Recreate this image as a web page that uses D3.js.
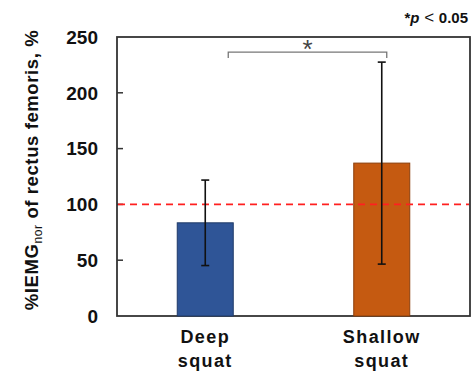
<!DOCTYPE html>
<html>
<head>
<meta charset="utf-8">
<script src="https://cdn.jsdelivr.net/npm/d3@7"></script>
<style>
  body { margin: 0; background: #fff; }
  svg { display: block; font-family: Arial, "Liberation Sans", sans-serif; }
</style>
</head>
<body>
<div class="chart"></div>
<script>
const categories = [["Deep", "squat"], ["Shallow", "squat"]];
const means = [83.5, 137];
const sds = [38.3, 90.5];
const yTicks = [0, 50, 100, 150, 200, 250];
const refLine = 100;
const colors = ["#2F5597", "#C55A11"];
const strokes = ["#1F3A68", "#8A3E0B"];

const width = 472, height = 371;
const margin = { top: 37, right: 2, bottom: 55, left: 117 };

const svg = d3.select(".chart")
  .append("svg")
  .attr("width", width)
  .attr("height", height);

const x = d3.scalePoint()
  .domain(d3.range(categories.length))
  .range([margin.left, width - margin.right])
  .padding(0.5);

const y = d3.scaleLinear()
  .domain([0, 250])
  .range([height - margin.bottom, margin.top]);

const barW = 56;

// frame
svg.append("rect")
  .attr("x", margin.left).attr("y", y(250))
  .attr("width", width - margin.right - margin.left).attr("height", y(0) - y(250))
  .attr("fill", "none").attr("stroke", "#333").attr("stroke-width", 1.8);

// inward ticks
svg.selectAll(".tick-line")
  .data(yTicks.filter(d => d > 0 && d < 250))
  .enter().append("line")
  .attr("x1", margin.left).attr("x2", margin.left + 6)
  .attr("y1", d => y(d)).attr("y2", d => y(d))
  .attr("stroke", "#333").attr("stroke-width", 1.5);

svg.selectAll(".tick-label")
  .data(yTicks)
  .enter().append("text")
  .attr("x", 98)
  .attr("y", d => y(d))
  .attr("dy", "0.36em")
  .attr("text-anchor", "end")
  .attr("font-size", 19)
  .attr("font-weight", "bold")
  .attr("fill", "#111")
  .text(d => d);

// bars
svg.selectAll(".bar")
  .data(means)
  .enter().append("rect")
  .attr("x", (d, i) => x(i) - barW / 2)
  .attr("y", d => y(d))
  .attr("width", barW)
  .attr("height", d => y(0) - y(d))
  .attr("fill", (d, i) => colors[i])
  .attr("stroke", (d, i) => strokes[i])
  .attr("stroke-width", 1);

// reference line
svg.append("line")
  .attr("x1", margin.left + 1).attr("x2", width - margin.right - 1)
  .attr("y1", y(refLine)).attr("y2", y(refLine))
  .attr("stroke", "#FF2020").attr("stroke-width", 1.6)
  .attr("stroke-dasharray", "7,5");

// error bars
const eb = svg.selectAll(".err").data(means).enter().append("g");
eb.append("line")
  .attr("x1", (d, i) => x(i)).attr("x2", (d, i) => x(i))
  .attr("y1", (d, i) => y(d + sds[i])).attr("y2", (d, i) => y(d - sds[i]))
  .attr("stroke", "#111").attr("stroke-width", 1.6);
[1, -1].forEach(s => {
  eb.append("line")
    .attr("x1", (d, i) => x(i) - 4).attr("x2", (d, i) => x(i) + 4)
    .attr("y1", (d, i) => y(d + s * sds[i])).attr("y2", (d, i) => y(d + s * sds[i]))
    .attr("stroke", "#111").attr("stroke-width", 1.6);
});

// significance bracket
const bx1 = x(0) + 23, bx2 = x(1) + 5, by = y(236.5);
svg.append("path")
  .attr("d", `M${bx1},${by + 6}V${by}H${bx2}V${by + 6}`)
  .attr("fill", "none").attr("stroke", "#777").attr("stroke-width", 1.3);
svg.append("text")
  .attr("x", (bx1 + bx2) / 2).attr("y", by + 6)
  .attr("text-anchor", "middle")
  .attr("font-size", 26).attr("fill", "#444")
  .text("*");

// p-value note
const note = svg.append("text")
  .attr("x", 468).attr("y", 23)
  .attr("text-anchor", "end")
  .attr("font-size", 15).attr("fill", "#111");
note.append("tspan").attr("font-weight", "bold").text("*");
note.append("tspan").attr("font-weight", "bold").attr("font-style", "italic").text("p");
note.append("tspan").attr("font-size", 17).text(" < ");
note.append("tspan").attr("font-weight", "bold").text("0.05");

// x labels
categories.forEach((lines, i) => {
  const t = svg.append("text")
    .attr("x", x(i)).attr("y", 343)
    .attr("text-anchor", "middle")
    .attr("font-size", 18).attr("font-weight", "bold")
    .attr("letter-spacing", 1.4).attr("fill", "#111");
  lines.forEach((l, j) => t.append("tspan")
    .attr("x", x(i)).attr("dy", j ? 24 : 0).text(l));
});

// y axis label
const yl = svg.append("text")
  .attr("transform", `translate(38, 170) rotate(-90)`)
  .attr("text-anchor", "middle")
  .attr("font-size", 18.5).attr("font-weight", "bold")
  .attr("letter-spacing", 0.6).attr("fill", "#111");
yl.append("tspan").text("%IEMG");
yl.append("tspan").attr("font-size", 12).attr("font-weight", "normal").attr("dy", 4).text("nor");
yl.append("tspan").attr("dy", -4).text(" of rectus femoris, %");
</script>
</body>
</html>
